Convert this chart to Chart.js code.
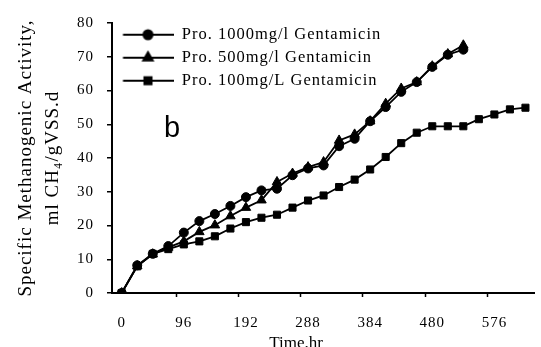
<!DOCTYPE html>
<html>
<head>
<meta charset="utf-8">
<script src="https://cdn.jsdelivr.net/npm/chart.js@4/dist/chart.umd.min.js"></script>
<style>
  html, body { margin: 0; padding: 0; background: #fff; overflow: hidden; }
  #wrap { width: 541px; height: 347px; }
</style>
</head>
<body>
<div id="wrap"><canvas id="c" width="541" height="347"></canvas></div>
<script>
(function () {
    'use strict';

    /* ── Data ─────────────────────────────────────────────────────────── */

    const HOURS = [0, 24, 48, 72, 96, 120, 144, 168, 192, 216, 240, 264, 288, 312,
                   336, 360, 384, 408, 432, 456, 480, 504, 528, 552, 576, 600, 624];

    const PRO_1000 = [0, 8.2, 11.6, 13.9, 17.9, 21.3, 23.4, 25.8, 28.4, 30.4, 30.9, 34.9,
                      36.9, 37.8, 43.5, 45.7, 50.9, 55.1, 59.6, 62.5, 67.0, 70.6, 72.1];

    const PRO_500 = [0, 8.0, 11.5, 13.5, 15.3, 18.1, 20.1, 22.8, 25.3, 27.5, 32.9, 35.4,
                     37.3, 38.8, 45.2, 47.0, 50.9, 56.1, 60.6, 62.5, 67.2, 70.8, 73.4];

    const PRO_100 = [0, 7.9, 11.6, 13.0, 14.4, 15.3, 16.8, 19.1, 21.0, 22.3, 23.2, 25.3,
                     27.4, 28.9, 31.4, 33.6, 36.6, 40.3, 44.4, 47.5, 49.4, 49.4, 49.4,
                     51.5, 52.9, 54.4, 54.9];

    const X_TICKS = [0, 96, 192, 288, 384, 480, 576];
    const Y_TICKS = [0, 10, 20, 30, 40, 50, 60, 70, 80];

    const SERIES_LABELS = ['Pro. 1000mg/l Gentamicin', 'Pro. 500mg/l Gentamicin', 'Pro. 100mg/L Gentamicin'];
    const SERIES_STYLES = ['circle', 'triangle', 'rect'];
    const SERIES_RADIUS = [4.5, 5.5, 5];

    /* ── Helpers ──────────────────────────────────────────────────────── */

    const SERIF = '"Liberation Serif", "Times New Roman", serif';
    const INK   = '#000';

    function toPoints(values) {
        return values.map(function (v, i) { return { x: HOURS[i], y: v }; });
    }

    // legend swatch: short line with the marker in its middle
    function legendIcon(style, radius) {
        const cv = document.createElement('canvas');
        cv.width = 55;
        cv.height = 16;
        const g = cv.getContext('2d');
        g.strokeStyle = INK;
        g.fillStyle = INK;
        g.lineWidth = 2;
        g.beginPath();
        g.moveTo(4.5, 8);
        g.lineTo(55, 8);
        g.stroke();
        Chart.helpers.drawPoint(g, { pointStyle: style, radius: radius, borderWidth: 1 }, 29.5, 8);
        return cv;
    }

    const ICONS = SERIES_STYLES.map(function (s, i) { return legendIcon(s, SERIES_RADIUS[i]); });

    const datasets = [PRO_1000, PRO_500, PRO_100].map(function (vals, i) {
        return {
            label: SERIES_LABELS[i],
            data: toPoints(vals),
            borderColor: INK,
            backgroundColor: INK,
            borderWidth: 1.8,
            pointStyle: SERIES_STYLES[i],
            pointRadius: SERIES_RADIUS[i],
            pointBorderWidth: 1,
            pointBackgroundColor: INK,
            pointBorderColor: INK,
            tension: 0,
        };
    });

    /* ── Extras: legend inside plot, panel letter, x title, tick marks ── */

    const extras = {
        id: 'extras',
        afterLayout: function (chart) {
            // vertical legend in the chart area resets its top to 0; put it back
            if (chart.legend) chart.legend.top = chart.chartArea.top - 3;
        },
        beforeDraw: function (chart) {
            chart.ctx.letterSpacing = '1px';
        },
        afterDraw: function (chart) {
            const ctx = chart.ctx;
            const xs = chart.scales.x;
            const bottom = chart.chartArea.bottom;
            ctx.save();
            ctx.strokeStyle = INK;
            ctx.lineWidth = 1.5;
            X_TICKS.slice(1).forEach(function (v) {
                const px = Math.round(xs.getPixelForValue(v - 12)) + 0.5;
                ctx.beginPath();
                ctx.moveTo(px, bottom);
                ctx.lineTo(px, bottom + 4);
                ctx.stroke();
            });
            ctx.fillStyle = INK;
            ctx.textBaseline = 'alphabetic';
            ctx.textAlign = 'left';
            ctx.letterSpacing = '0px';
            ctx.font = '29px "Liberation Sans", Arial, sans-serif';
            ctx.fillText('b', 164, 137);
            ctx.textAlign = 'center';
            ctx.font = '17px ' + SERIF;
            ctx.fillText('Time.hr', 296, 348);
            ctx.restore();
        },
    };

    /* ── Chart ────────────────────────────────────────────────────────── */

    new Chart(document.getElementById('c'), {
        type: 'line',
        data: { datasets: datasets },
        plugins: [extras],
        options: {
            responsive: false,
            animation: false,
            layout: { padding: { top: 23, right: 0, bottom: 0, left: 0 } },
            plugins: {
                tooltip: { enabled: false },
                legend: {
                    position: 'chartArea',
                    align: 'start',
                    labels: {
                        color: INK,
                        font: { family: SERIF, size: 16.5 },
                        usePointStyle: true,
                        pointStyleWidth: 55,
                        padding: 6.5,
                        generateLabels: function (chart) {
                            const items = Chart.defaults.plugins.legend.labels.generateLabels(chart);
                            items.forEach(function (it, i) { it.pointStyle = ICONS[i]; });
                            return items;
                        },
                    },
                },
            },
            scales: {
                x: {
                    type: 'linear',
                    min: -15,
                    max: 638,
                    afterFit: function (s) { s.height = 54; },
                    afterBuildTicks: function (s) {
                        s.ticks = X_TICKS.map(function (v) { return { value: v }; });
                    },
                    border: { color: INK, width: 2 },
                    grid: { display: false, drawTicks: false },
                    ticks: {
                        color: INK,
                        padding: 21,
                        maxRotation: 0,
                        autoSkip: false,
                        font: { family: SERIF, size: 15 },
                    },
                },
                y: {
                    min: 0,
                    max: 80,
                    afterFit: function (s) { s.width = 112; },
                    afterBuildTicks: function (s) {
                        s.ticks = Y_TICKS.map(function (v) { return { value: v }; });
                    },
                    border: { color: INK, width: 2 },
                    grid: {
                        drawOnChartArea: false,
                        drawTicks: true,
                        tickLength: 5,
                        color: INK,
                        lineWidth: 1.5,
                    },
                    ticks: {
                        color: INK,
                        padding: 13,
                        font: { family: SERIF, size: 15 },
                    },
                    title: {
                        display: true,
                        text: ['Specific Methanogenic Activity,', 'ml CH\u2084/gVSS.d'],
                        color: INK,
                        font: { family: SERIF, size: 19, lineHeight: 1.4 },
                        padding: { top: 13, bottom: 0 },
                    },
                },
            },
        },
    });
})();
</script>
</body>
</html>
